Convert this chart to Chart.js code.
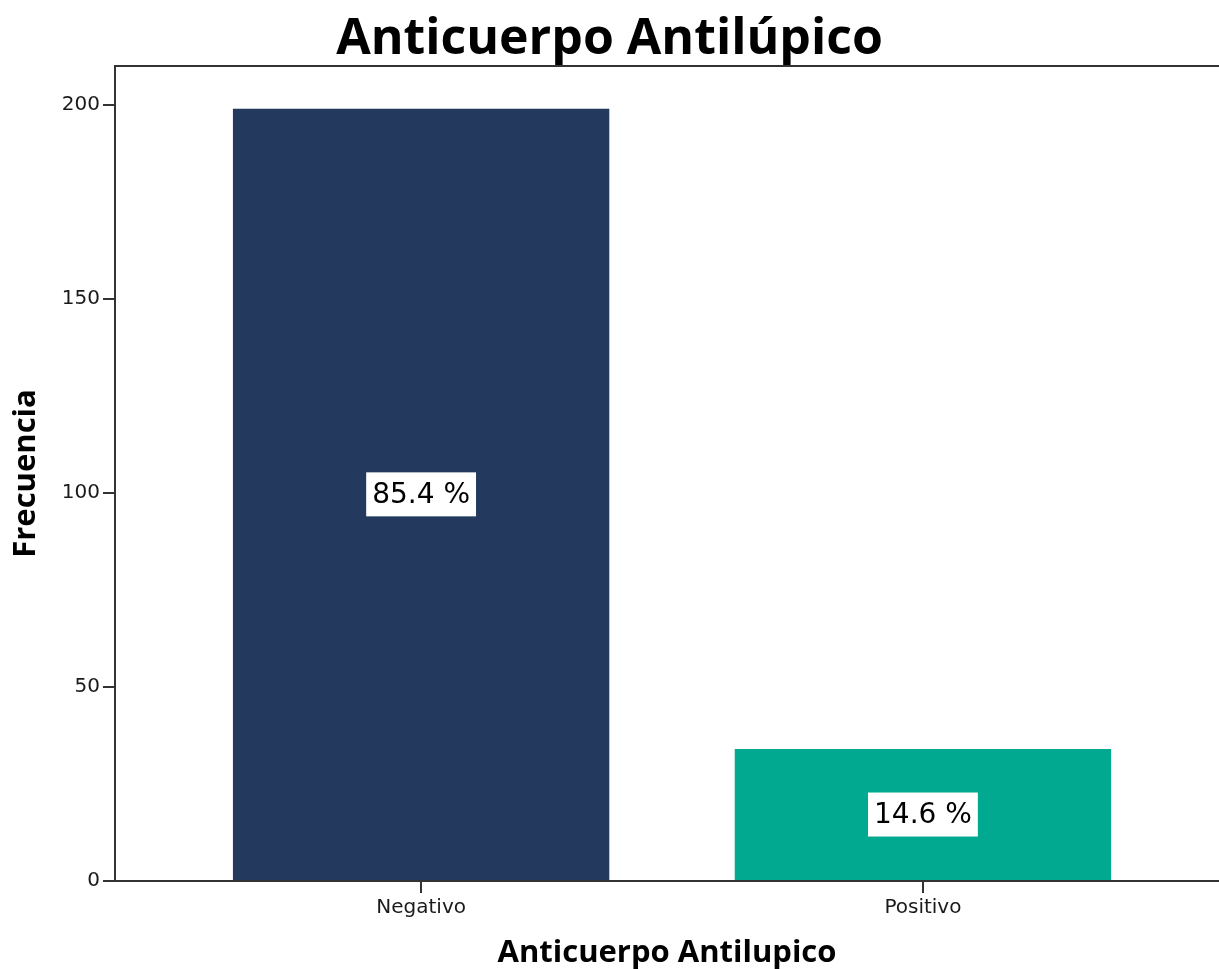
<!DOCTYPE html>
<html>
<head>
<meta charset="utf-8">
<script src="https://cdn.jsdelivr.net/npm/chart.js@4.4.1/dist/chart.umd.min.js"></script>
<style>
  html, body { margin: 0; padding: 0; background: #ffffff; }
  #wrap { width: 1219px; height: 969px; }
</style>
</head>
<body>
<div id="wrap"><canvas id="c" width="1219" height="969"></canvas></div>
<script>
// Frequencies of the lupus anticoagulant result
const categories = ['Negativo', 'Positivo'];
const counts = [199, 34];
const barColors = ['#233a5e', '#00a98f'];
const yTicks = [0, 50, 100, 150, 200];

const total = counts.reduce((a, b) => a + b, 0);
const percentLabels = counts.map(v => (v / total * 100).toFixed(1) + ' %');

// Boxed percentage label centred on each bar
const percentBoxes = {
  id: 'percentBoxes',
  afterDatasetsDraw(chart) {
    const ctx = chart.ctx;
    const meta = chart.getDatasetMeta(0);
    ctx.save();
    ctx.font = '28px "DejaVu Sans"';
    ctx.textAlign = 'center';
    ctx.textBaseline = 'middle';
    meta.data.forEach((bar, i) => {
      const text = percentLabels[i];
      const cx = bar.x;
      const cy = (bar.y + bar.base) / 2;
      const w = ctx.measureText(text).width + 12;
      const h = 44;
      ctx.fillStyle = '#ffffff';
      ctx.fillRect(cx - w / 2, cy - h / 2, w, h);
      ctx.fillStyle = '#000000';
      ctx.fillText(text, cx, cy + 1);
    });
    ctx.restore();
  }
};

// Top frame line of the plot box
const topFrame = {
  id: 'topFrame',
  afterDraw(chart) {
    const { ctx, chartArea } = chart;
    ctx.save();
    ctx.strokeStyle = '#333333';
    ctx.lineWidth = 2;
    ctx.beginPath();
    ctx.moveTo(chartArea.left - 1, chartArea.top);
    ctx.lineTo(chartArea.right + 2, chartArea.top);
    ctx.stroke();
    ctx.restore();
  }
};

new Chart(document.getElementById('c'), {
  type: 'bar',
  data: {
    datasets: [{
      data: counts.map((v, i) => ({ x: i + 1, y: v })),
      backgroundColor: barColors,
      borderWidth: 0,
      categoryPercentage: 1,
      barPercentage: 0.75
    }]
  },
  options: {
    responsive: false,
    animation: false,
    layout: { padding: 0 },
    plugins: {
      legend: { display: false },
      tooltip: { enabled: false },
      title: {
        display: true,
        text: 'Anticuerpo Antilúpico',
        color: '#000000',
        font: { family: '"Open Sans"', size: 50, weight: 'bold', lineHeight: 1.05 },
        padding: { top: 13, bottom: 0.5 }
      }
    },
    scales: {
      x: {
        type: 'linear',
        offset: false,
        min: 0.39,
        max: 2.59,
        afterBuildTicks(scale) {
          scale.ticks = categories.map((_, i) => ({ value: i + 1 }));
        },
        afterFit(scale) { scale.height = 88; },
        ticks: {
          color: '#1a1a1a',
          font: { family: '"DejaVu Sans"', size: 20 },
          padding: 3,
          callback: v => categories[v - 1]
        },
        grid: {
          offset: false,
          drawOnChartArea: false,
          drawTicks: true,
          tickLength: 12,
          color: '#333333',
          lineWidth: 2
        },
        border: { display: true, color: '#333333', width: 2 },
        title: {
          display: true,
          text: 'Anticuerpo Antilupico',
          color: '#000000',
          font: { family: '"Open Sans"', size: 31, weight: 'bold', lineHeight: 1.0 },
          padding: { top: 0, bottom: 0 }
        }
      },
      y: {
        min: 0,
        max: 210,
        afterBuildTicks(scale) {
          scale.ticks = yTicks.map(v => ({ value: v }));
        },
        afterFit(scale) { scale.width = 115; },
        ticks: {
          color: '#1a1a1a',
          font: { family: '"DejaVu Sans"', size: 20 },
          padding: 3
        },
        grid: {
          drawOnChartArea: false,
          drawTicks: true,
          tickLength: 12,
          color: '#333333',
          lineWidth: 2
        },
        border: { display: true, color: '#333333', width: 2 },
        title: {
          display: true,
          text: 'Frecuencia',
          color: '#000000',
          font: { family: '"Open Sans"', size: 31, weight: 'bold', lineHeight: 1.2 },
          padding: { top: 8, bottom: 8 }
        }
      }
    }
  },
  plugins: [percentBoxes, topFrame]
});
</script>
</body>
</html>
